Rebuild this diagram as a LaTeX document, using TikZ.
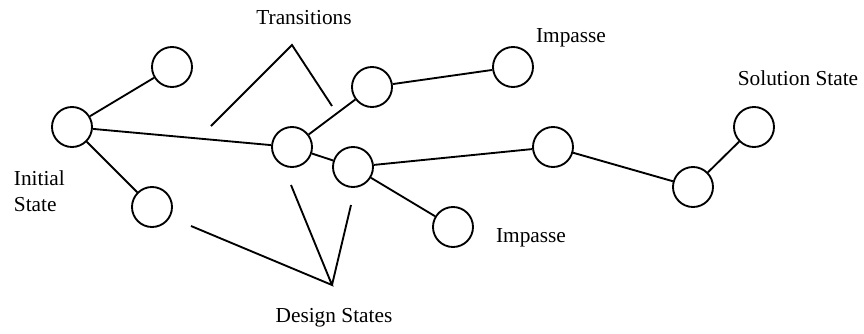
\documentclass[tikz,border=0pt]{standalone}
\usepackage{fontspec}
\setmainfont{Liberation Serif}
\begin{document}
\begin{tikzpicture}[x=0.75pt,y=-0.75pt,line width=1.4pt,
  state/.style={circle,draw,minimum size=30pt,inner sep=0pt},
  lbl/.style={font=\fontsize{16}{19.5}\selectfont,inner sep=0pt}]
\useasboundingbox (0,0) rectangle (864,333);
\node[state] (init) at (72,127) {};
\node[state] (up) at (172,67) {};
\node[state] (low) at (152,207) {};
\node[state] (mid) at (292,147) {};
\node[state] (top) at (372,87) {};
\node[state] (next) at (353,167) {};
\node[state] (imtop) at (513,67) {};
\node[state] (far) at (553,147) {};
\node[state] (imlow) at (453,227) {};
\node[state] (pre) at (693,187) {};
\node[state] (sol) at (754,127) {};
\draw (init)--(up) (init)--(low) (init)--(mid)
  (mid)--(top) (mid)--(next) (top)--(imtop)
  (next)--(far) (next)--(imlow) (far)--(pre) (pre)--(sol);
% pointers
\coordinate (tr) at (292,45);
\coordinate (trl) at (211,126);
\coordinate (trr) at (332,106);
\coordinate (ds) at (332,285);
\coordinate (dsa) at (191,226);
\coordinate (dsb) at (291,185);
\coordinate (dsc) at (351,205);
\draw (trl)--(tr)--(trr) (dsa)--(ds)--(dsb) (ds)--(dsc);
\node[lbl] (ttr) at (304,18) {Transitions};
\node[lbl] (tds) at (334,318) {Design States};
\node[lbl,align=left,anchor=west] (tinit) at (13,191) {Initial\\State};
\node[lbl] (timtop) at (571,38) {Impasse};
\node[lbl] (tsol) at (798,78) {Solution State};
\node[lbl] (timlow) at (531,238) {Impasse};
\end{tikzpicture}
\end{document}
